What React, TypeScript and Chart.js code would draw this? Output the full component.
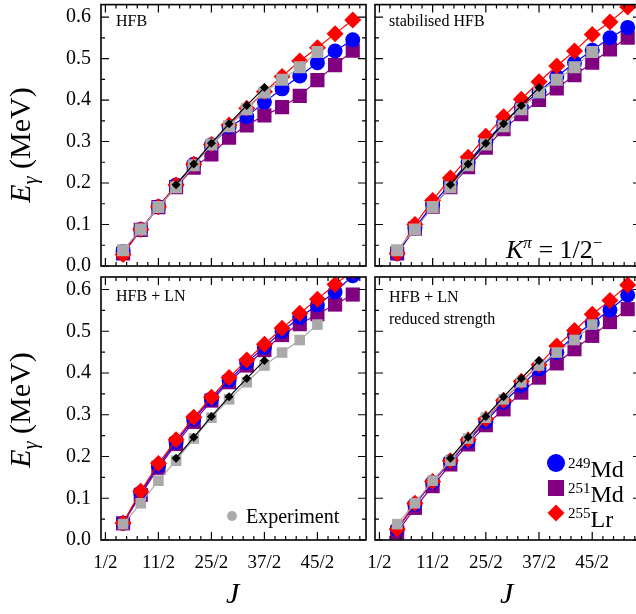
import React, { useEffect, useRef } from 'react';
import { Chart, registerables } from 'chart.js';

Chart.register(...registerables);

const J = [2.5, 4.5, 6.5, 8.5, 10.5, 12.5, 14.5, 16.5, 18.5, 20.5, 22.5, 24.5, 26.5, 28.5];
const xTickPos = [0.5, 6.5, 12.5, 18.5, 24.5];
const xTickLabels = ['1/2', '11/2', '25/2', '37/2', '45/2'];
const yTicks = [0, 0.1, 0.2, 0.3, 0.4, 0.5, 0.6];

// experiment
const expGray = [0.038, 0.088, 0.142, 0.19, 0.243, 0.293, 0.337, 0.378, 0.418, 0.449, 0.479, 0.516];
const expBlackJ = [8.5, 10.5, 12.5, 14.5, 16.5, 18.5];
const expBlack = [0.196, 0.246, 0.296, 0.343, 0.387, 0.43];

// HFB
const hfbMd249 = [0.035, 0.088, 0.143, 0.195, 0.245, 0.292, 0.335, 0.36, 0.395, 0.427, 0.458, 0.49, 0.518, 0.545];
const hfbMd251 = [0.03, 0.087, 0.142, 0.19, 0.237, 0.269, 0.309, 0.339, 0.363, 0.383, 0.41, 0.448, 0.484, 0.519];
const hfbLr255 = [0.028, 0.088, 0.143, 0.195, 0.245, 0.293, 0.34, 0.38, 0.42, 0.457, 0.494, 0.526, 0.56, 0.593];

// stabilised HFB
const stMd249 = [0.03, 0.092, 0.148, 0.2, 0.25, 0.3, 0.345, 0.385, 0.42, 0.456, 0.49, 0.52, 0.55, 0.575];
const stMd251 = [0.03, 0.09, 0.143, 0.19, 0.238, 0.285, 0.33, 0.366, 0.4, 0.428, 0.46, 0.49, 0.522, 0.55];
const stLr255 = [0.03, 0.1, 0.158, 0.212, 0.262, 0.313, 0.36, 0.402, 0.444, 0.482, 0.518, 0.558, 0.588, 0.624];

// HFB + LN
const lnMd249 = [0.04, 0.113, 0.178, 0.235, 0.29, 0.338, 0.383, 0.425, 0.462, 0.5, 0.533, 0.563, 0.594, 0.633];
const lnMd251 = [0.04, 0.108, 0.173, 0.23, 0.283, 0.334, 0.378, 0.418, 0.455, 0.491, 0.517, 0.541, 0.564, 0.588];
const lnLr255 = [0.041, 0.117, 0.183, 0.24, 0.294, 0.342, 0.389, 0.431, 0.469, 0.507, 0.543, 0.577, 0.612, 0.645];

// HFB + LN reduced strength
const rsMd249 = [0.025, 0.085, 0.138, 0.188, 0.236, 0.284, 0.33, 0.37, 0.41, 0.45, 0.49, 0.52, 0.551, 0.587];
const rsMd251 = [0.018, 0.077, 0.129, 0.181, 0.229, 0.275, 0.313, 0.353, 0.389, 0.423, 0.457, 0.489, 0.522, 0.553];
const rsLr255 = [0.026, 0.088, 0.14, 0.19, 0.24, 0.29, 0.335, 0.38, 0.42, 0.465, 0.502, 0.541, 0.574, 0.611];

const SERIF = '"Liberation Serif", "DejaVu Serif", serif';

const pts = (xs: number[], ys: number[]) => ys.map((y, i) => ({ x: xs[i], y }));

function makeSets(md249: number[], md251: number[], lr255: number[], grayR: number) {
  const line = (data: any, color: string, style: string, r: number, z: number) => ({
    data, borderColor: color, backgroundColor: color, borderWidth: 1.2,
    pointStyle: style, pointRadius: r, pointBorderWidth: 0, order: z,
  });
  return [
    line(pts(J, md251), '#800080', 'rect', 10, 5),
    line(pts(J, md249), '#0000ff', 'circle', 7.5, 4),
    line(pts(J, lr255), '#ff0000', 'rectRot', 8.5, 3),
    line(pts(J, expGray), '#aaaaaa', 'rect', grayR, 2),
    line(pts(expBlackJ, expBlack), '#000000', 'rectRot', 4.5, 1),
  ];
}

// frame, inward ticks and tick labels
const framePlugin = {
  id: 'frame',
  afterDraw(chart: any) {
    const { ctx, chartArea: a, scales } = chart;
    const xs = scales.x, ys = scales.y;
    const o = chart.options.plugins.frame;
    ctx.save();
    ctx.strokeStyle = '#000';
    ctx.lineWidth = 1.2;
    ctx.beginPath();
    for (let v = 0.5; v <= 30; v += 1.2) {
      const major = Math.abs(((v - 0.5) / 6) - Math.round((v - 0.5) / 6)) < 0.01;
      const L = major ? 8 : 4;
      const px = xs.getPixelForValue(v);
      ctx.moveTo(px, a.bottom); ctx.lineTo(px, a.bottom - L);
      ctx.moveTo(px, a.top); ctx.lineTo(px, a.top + L);
    }
    for (let k = 0; k <= 12; k++) {
      const L = k % 2 === 0 ? 8 : 4;
      const py = ys.getPixelForValue(k * 0.05);
      ctx.moveTo(a.left, py); ctx.lineTo(a.left + L, py);
      ctx.moveTo(a.right, py); ctx.lineTo(a.right - L, py);
    }
    ctx.stroke();
    ctx.lineWidth = 1.6;
    ctx.strokeRect(a.left, a.top, a.right - a.left, a.bottom - a.top);
    ctx.fillStyle = '#000';
    if (o.showY) {
      ctx.font = `20px ${SERIF}`;
      ctx.textAlign = 'right';
      ctx.textBaseline = 'middle';
      yTicks.forEach(v => ctx.fillText(v.toFixed(1), a.left - 10, ys.getPixelForValue(v)));
    }
    if (o.showX) {
      ctx.font = `19px ${SERIF}`;
      ctx.textAlign = 'center';
      ctx.textBaseline = 'top';
      xTickPos.forEach((v, i) => ctx.fillText(xTickLabels[i], xs.getPixelForValue(v), a.bottom + 14));
    }
    ctx.restore();
  },
};

interface PanelProps {
  left: number; top: number; width: number; height: number;
  showY: boolean; showX: boolean; pad: any; datasets: any[];
}

const Panel: React.FC<PanelProps> = ({ left, top, width, height, showY, showX, pad, datasets }) => {
  const ref = useRef<HTMLCanvasElement>(null);
  useEffect(() => {
    if (!ref.current) return;
    const chart = new Chart(ref.current, {
      type: 'line',
      data: { datasets },
      options: {
        responsive: false,
        animation: false,
        layout: { padding: pad, autoPadding: false },
        plugins: {
          legend: { display: false }, tooltip: { enabled: false },
          frame: { showX, showY },
        } as any,
        scales: {
          x: { type: 'linear', min: 0, max: 30, display: false },
          y: { type: 'linear', min: 0, max: 0.63, display: false },
        },
      },
      plugins: [framePlugin],
    });
    return () => chart.destroy();
  }, []);
  return (
    <canvas ref={ref} width={width} height={height}
      style={{ position: 'absolute', left, top, width, height }} />
  );
};

const abs = (left: number, top: number, extra: any = {}) => ({ position: 'absolute' as const, left, top, ...extra });

const YTitle: React.FC<{ cy: number }> = ({ cy }) => (
  <div style={abs(-60, cy - 18, { width: 170, textAlign: 'center', fontSize: 30, transform: 'rotate(-90deg)', whiteSpace: 'nowrap', lineHeight: '36px' })}>
    <i>E</i><sub style={{ fontSize: 20 }}><i>γ</i></sub> (MeV)
  </div>
);

export default function App() {
  return (
    <div style={{ position: 'fixed', left: 0, top: 0, width: 636, height: 614, overflow: 'hidden', background: '#fff', fontFamily: SERIF, color: '#000' }}>
      <Panel left={0} top={0} width={367} height={282} showY showX={false} pad={{ left: 101, top: 4.6, right: 1, bottom: 16 }} datasets={makeSets(hfbMd249, hfbMd251, hfbLr255, 8.5)} />
      <Panel left={374} top={0} width={268} height={267} showY={false} showX={false} pad={{ left: 1, top: 4.6, right: 1, bottom: 1 }} datasets={makeSets(stMd249, stMd251, stLr255, 8.5)} />
      <Panel left={0} top={276} width={367} height={338} showY showX pad={{ left: 101, top: 1, right: 1, bottom: 74 }} datasets={makeSets(lnMd249, lnMd251, lnLr255, 7.5)} />
      <Panel left={344} top={276} width={298} height={338} showY={false} showX pad={{ left: 31, top: 1, right: 1, bottom: 74 }} datasets={makeSets(rsMd249, rsMd251, rsLr255, 7.5)} />

      <YTitle cy={140} />
      <YTitle cy={405} />
      <div style={abs(226, 576, { fontSize: 30, fontStyle: 'italic' })}>J</div>
      <div style={abs(500, 576, { fontSize: 30, fontStyle: 'italic' })}>J</div>

      <div style={abs(116, 11, { fontSize: 16, lineHeight: '20px' })}>HFB</div>
      <div style={abs(389, 11, { fontSize: 16, lineHeight: '20px' })}>stabilised HFB</div>
      <div style={abs(116, 286, { fontSize: 16, lineHeight: '20px' })}>HFB + LN</div>
      <div style={abs(389, 286, { fontSize: 16, lineHeight: '22px' })}>HFB + LN<br />reduced strength</div>

      <div style={abs(506, 228, { fontSize: 26, lineHeight: '30px', whiteSpace: 'nowrap' })}>
        <i>K</i><sup style={{ fontSize: 17 }}><i>π</i></sup> = 1/2<sup style={{ fontSize: 17 }}>−</sup>
      </div>

      <div style={abs(227, 504, { fontSize: 20, lineHeight: '24px', whiteSpace: 'nowrap', display: 'flex', alignItems: 'center' })}>
        <span style={{ display: 'inline-block', width: 10, height: 10, borderRadius: 5, background: '#aaaaaa', marginRight: 9 }} />
        Experiment
      </div>

      {[
        { y: 463, label: '249', sym: 'Md', shape: { width: 18, height: 18, borderRadius: 9, background: '#0000ff' } },
        { y: 488, label: '251', sym: 'Md', shape: { width: 16, height: 16, background: '#800080' } },
        { y: 513, label: '255', sym: 'Lr', shape: { width: 12, height: 12, background: '#ff0000', transform: 'rotate(45deg)' } },
      ].map(e => (
        <React.Fragment key={e.label}>
          <div style={abs(556 - (e.shape.width as number) / 2, e.y - (e.shape.height as number) / 2, e.shape)} />
          <div style={abs(568, e.y - 15, { fontSize: 24, lineHeight: '30px', whiteSpace: 'nowrap' })}>
            <sup style={{ fontSize: 15 }}>{e.label}</sup>{e.sym}
          </div>
        </React.Fragment>
      ))}
    </div>
  );
}
